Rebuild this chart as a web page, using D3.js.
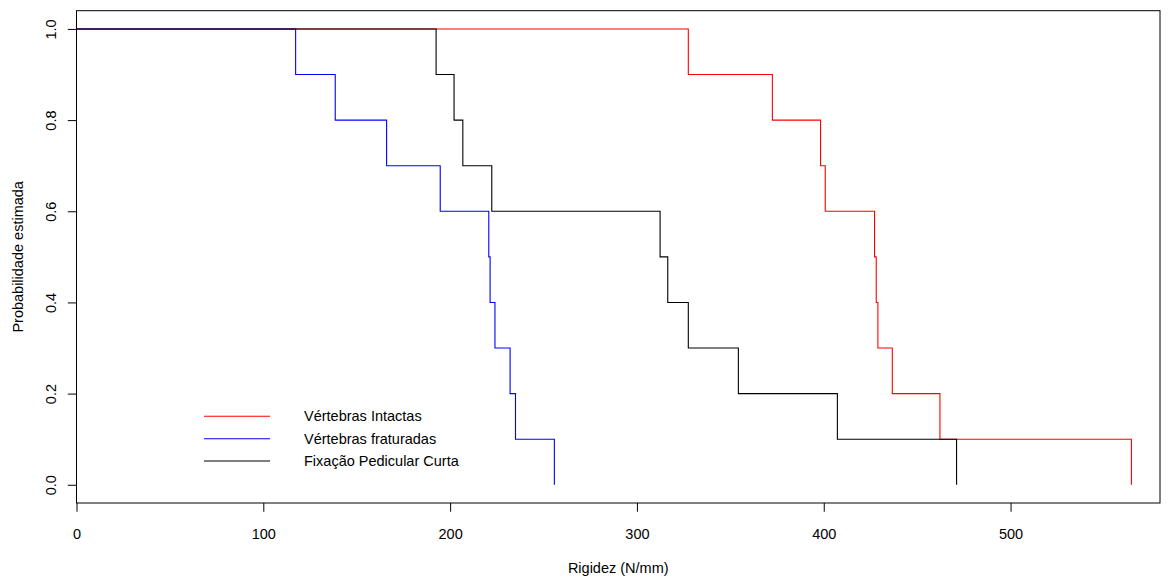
<!DOCTYPE html>
<meta charset="utf-8">
<script src="https://d3js.org/d3.v7.min.js"></script>
<style>
  body { margin: 0; background: white; }
  svg text { font-family: "Liberation Sans", Arial, sans-serif; fill: #000; }
</style>
<body>
<div id="chart"></div>
<script>
// step points (time where survival drops, level after the drop)
var intactTimes = [327.5, 372.5, 398.3, 400.8, 427.2, 428.1, 429.0, 436.7, 462.2, 564.7];
var intactSurv = [0.9, 0.8, 0.7, 0.6, 0.5, 0.4, 0.3, 0.2, 0.1, 0.0];
var fracturedTimes = [117.3, 138.5, 166.0, 194.7, 220.7, 221.4, 224.0, 232.1, 235.0, 255.8];
var fracturedSurv = [0.9, 0.8, 0.7, 0.6, 0.5, 0.4, 0.3, 0.2, 0.1, 0.0];
var fixationTimes = [192.5, 202.1, 206.8, 222.3, 312.4, 316.5, 327.5, 354.3, 407.3, 471.1];
var fixationSurv = [0.9, 0.8, 0.7, 0.6, 0.5, 0.4, 0.3, 0.2, 0.1, 0.0];

var groupNames = ["Vértebras Intactas", "Vértebras fraturadas", "Fixação Pedicular Curta"];
var groupColors = ["#ff0000", "#0000ff", "#000000"];
var xTicks = [0, 100, 200, 300, 400, 500];
var yTicks = [0, 0.2, 0.4, 0.6, 0.8, 1.0];

var W = 1170, H = 578;
var fs = "14.5px";

var svg = d3.select("#chart").append("svg")
  .attr("width", W).attr("height", H);

var x = d3.scaleLinear().domain([0, 580]).range([76.5, 1160]);
var y = d3.scaleLinear().domain([-0.04, 1.04]).range([503, 10.7]);

// x axis
var xg = svg.append("g")
  .attr("transform", "translate(0," + y.range()[0] + ")")
  .call(d3.axisBottom(x).tickValues(xTicks).tickSize(8.7).tickPadding(0).tickFormat(d3.format("d")));
xg.select(".domain").remove();
xg.selectAll("line").attr("stroke", "#000");
xg.selectAll("text").attr("y", 35.5).attr("dy", null).style("font-size", fs);

// y axis, labels turned like R
var yg = svg.append("g")
  .attr("transform", "translate(" + x.range()[0] + ",0)")
  .call(d3.axisLeft(y).tickValues(yTicks).tickSize(8.7).tickFormat(d3.format(".1f")));
yg.select(".domain").remove();
yg.selectAll("line").attr("stroke", "#000");
yg.selectAll("text")
  .attr("x", null).attr("dy", null)
  .attr("text-anchor", "middle")
  .attr("transform", "translate(-20.5,0) rotate(-90)")
  .style("font-size", fs);

svg.append("text")
  .attr("x", (x.range()[0] + x.range()[1]) / 2)
  .attr("y", 573)
  .attr("text-anchor", "middle")
  .style("font-size", fs)
  .text("Rigidez (N/mm)");

svg.append("text")
  .attr("transform", "translate(23," + ((y.range()[0] + y.range()[1]) / 2) + ") rotate(-90)")
  .attr("text-anchor", "middle")
  .style("font-size", fs)
  .text("Probabilidade estimada");

// box
svg.append("rect")
  .attr("x", x.range()[0]).attr("y", y.range()[1])
  .attr("width", x.range()[1] - x.range()[0])
  .attr("height", y.range()[0] - y.range()[1])
  .attr("fill", "none").attr("stroke", "#000").attr("stroke-width", 1);

function stepPoints(times, surv) {
  var pts = [[0, 1]];
  times.forEach(function(t, i) { pts.push([t, surv[i]]); });
  return pts;
}

var series = [
  stepPoints(intactTimes, intactSurv),
  stepPoints(fracturedTimes, fracturedSurv),
  stepPoints(fixationTimes, fixationSurv)
];

var line = d3.line()
  .x(function(d) { return x(d[0]); })
  .y(function(d) { return y(d[1]); })
  .curve(d3.curveStepAfter);

svg.selectAll("path.km")
  .data(series)
  .enter()
  .append("path")
    .attr("class", "km")
    .attr("d", line)
    .attr("fill", "none")
    .attr("stroke", function(d, i) { return groupColors[i]; })
    .attr("stroke-width", 1.1);

// legend
var legY = [416.3, 438.7, 461];
var leg = svg.selectAll("g.leg")
  .data(groupNames)
  .enter()
  .append("g").attr("class", "leg");
leg.append("line")
  .attr("x1", 204).attr("x2", 270)
  .attr("y1", function(d, i) { return legY[i]; })
  .attr("y2", function(d, i) { return legY[i]; })
  .attr("stroke", function(d, i) { return groupColors[i]; })
  .attr("stroke-width", 1.1);
leg.append("text")
  .attr("x", 304)
  .attr("y", function(d, i) { return legY[i] + 5; })
  .style("font-size", fs)
  .text(function(d) { return d; });
</script>
</body>
